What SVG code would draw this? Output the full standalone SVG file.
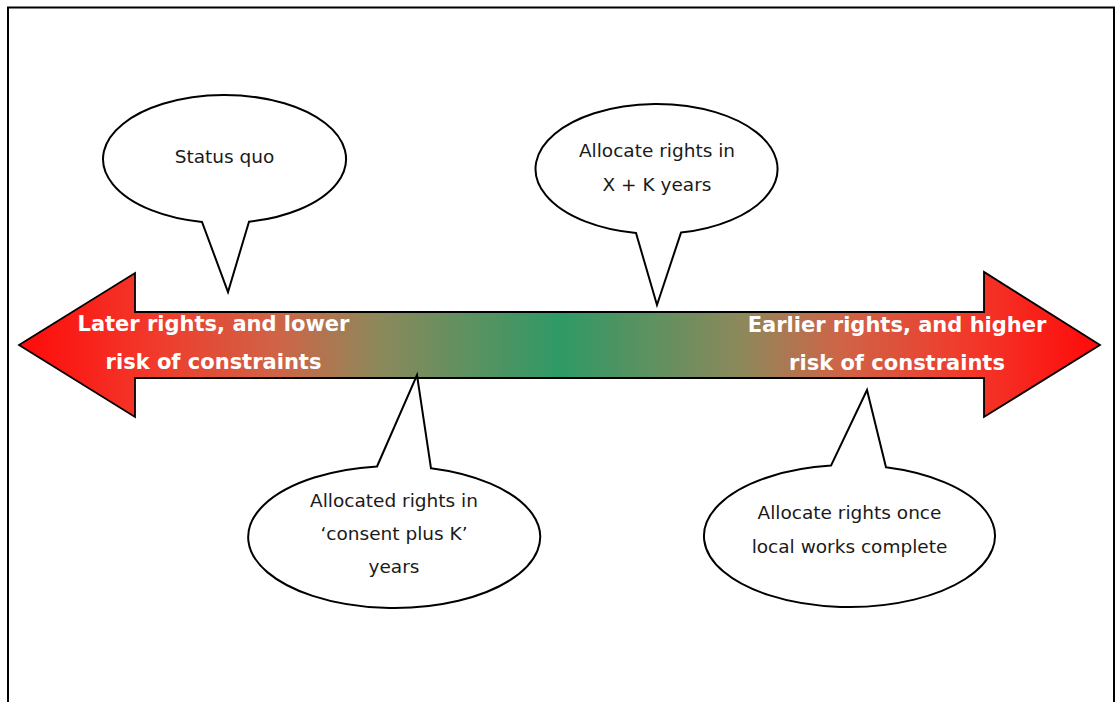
<svg xmlns="http://www.w3.org/2000/svg" width="1117" height="702" viewBox="0 0 1117 702">
<defs>
<linearGradient id="g" gradientUnits="userSpaceOnUse" x1="19" y1="0" x2="1100" y2="0">
<stop offset="0" stop-color="#ff0a0a"/>
<stop offset="0.12" stop-color="#f2382a"/>
<stop offset="0.24" stop-color="#cf6447"/>
<stop offset="0.33" stop-color="#8e885a"/>
<stop offset="0.5" stop-color="#2e9a66"/>
<stop offset="0.67" stop-color="#8e885a"/>
<stop offset="0.76" stop-color="#cf6447"/>
<stop offset="0.88" stop-color="#f2382a"/>
<stop offset="1" stop-color="#ff0a0a"/>
</linearGradient>
<style>
.bub{fill:#fff;stroke:#000;stroke-width:2;stroke-linejoin:miter}
.bt{font-family:"DejaVu Sans",Verdana,sans-serif;font-size:18.5px;fill:#1a1a1a;text-anchor:middle}
.at{font-family:"DejaVu Sans",Verdana,sans-serif;font-size:21px;font-weight:bold;fill:#fff;text-anchor:middle}
</style>
</defs>
<rect x="8" y="7.5" width="1106" height="720" fill="#fff" stroke="#000" stroke-width="2"/>
<g id="arrow">
<polygon points="19,345 135,273 135,312 984,312 984,272 1100,345 984,417 984,378 135,378 135,417" fill="url(#g)" stroke="#000" stroke-width="1.8"/>
<text class="at" x="213.5" y="331">Later rights, and lower</text>
<text class="at" x="213.5" y="369">risk of constraints</text>
<text class="at" x="897" y="332">Earlier rights, and higher</text>
<text class="at" x="897" y="370">risk of constraints</text>
</g>
<g id="status-quo">
<path class="bub" d="M249,221.7 L228,292 L202,221.9 A121.5,64 0 1 1 249,221.7 Z"/>
<text class="bt" x="224.5" y="163">Status quo</text>
</g>
<g id="x-plus-k">
<path class="bub" d="M681,232.6 L657,305 L636,233 A121,65 0 1 1 681,232.6 Z"/>
<text class="bt" x="657" y="157">Allocate rights in</text>
<text class="bt" x="657" y="191">X + K years</text>
</g>
<g id="consent-plus-k">
<path class="bub" d="M377,466.5 L417,375 L431,468.3 A146,71 0 1 1 377,466.5 Z"/>
<text class="bt" x="394" y="506.5">Allocated rights in</text>
<text class="bt" x="394" y="540">‘consent plus K’</text>
<text class="bt" x="394" y="573">years</text>
</g>
<g id="local-works">
<path class="bub" d="M831,465.6 L867,390 L886,467.3 A145.5,71 0 1 1 831,465.6 Z"/>
<text class="bt" x="849.5" y="519">Allocate rights once</text>
<text class="bt" x="849.5" y="553">local works complete</text>
</g>
<g id="connectors"/>
</svg>
